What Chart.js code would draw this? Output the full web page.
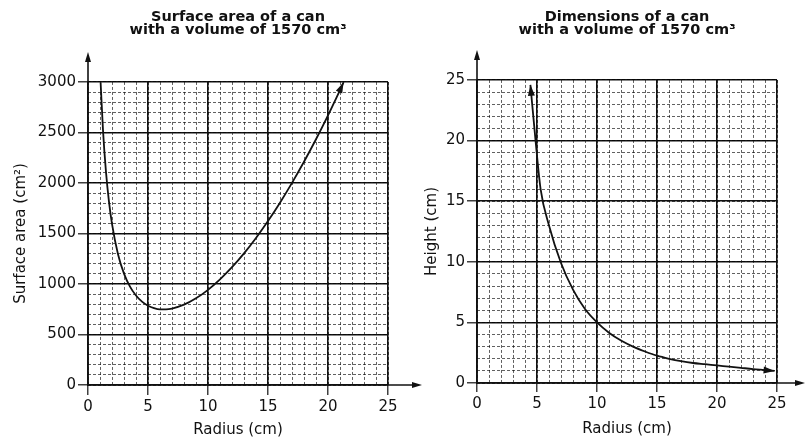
<!DOCTYPE html>
<html><head><meta charset="utf-8">
<script src="https://cdn.jsdelivr.net/npm/chart.js@4/dist/chart.umd.min.js"></script>
<style>
html,body{margin:0;padding:0;background:#fff;width:807px;height:444px;overflow:hidden;}
#c1{position:absolute;left:0;top:0;}
#c2{position:absolute;left:403px;top:0;}
</style></head><body>
<canvas id="c1" width="430" height="444"></canvas>
<canvas id="c2" width="404" height="444"></canvas>
<script>
// ---- data ----
const radiusA = [1.05, 1.25, 1.5, 1.75, 2, 2.5, 3, 3.5, 4, 4.5, 5, 5.5, 6, 6.5, 7, 8, 9, 10, 11, 12, 13, 14, 15, 16, 17, 18, 19, 20, 21, 21.3];
const surfaceArea = [2997, 2522, 2107, 1813, 1595, 1295, 1103, 974, 886, 825, 785, 761, 749, 749, 757, 795, 858, 942, 1046, 1166, 1303, 1456, 1623, 1805, 2001, 2210, 2433, 2670, 2920, 2998];
const radiusH = [4.45, 4.88, 5.3, 6, 7, 8, 9, 10, 11, 12, 13, 14, 15, 16, 17, 18, 19, 20, 21, 22, 23, 24, 24.8];
const canHeight = [24.6, 20.0, 16.0, 13.0, 9.9, 7.7, 6.1, 5.0, 4.15, 3.5, 3.0, 2.6, 2.25, 2.0, 1.8, 1.65, 1.55, 1.45, 1.35, 1.25, 1.15, 1.07, 1.0];
const radiusTicks = [0, 5, 10, 15, 20, 25];
const areaTicks = [0, 500, 1000, 1500, 2000, 2500, 3000];
const heightTicks = [0, 5, 10, 15, 20, 25];
const title1 = ['Surface area of a can', 'with a volume of 1570 cm³'];
const title2 = ['Dimensions of a can', 'with a volume of 1570 cm³'];

Chart.defaults.color = '#111';
Chart.defaults.font.family = 'DejaVu Sans';

function arrowHead(ctx, tx, ty, ang, len, hw) {
  ctx.beginPath();
  ctx.moveTo(tx, ty);
  ctx.lineTo(tx - len * Math.cos(ang) + hw * Math.sin(ang), ty - len * Math.sin(ang) - hw * Math.cos(ang));
  ctx.lineTo(tx - len * Math.cos(ang) - hw * Math.sin(ang), ty - len * Math.sin(ang) + hw * Math.cos(ang));
  ctx.closePath();
  ctx.fill();
}

const arrowsPlugin = {
  id: 'arrows',
  afterDraw(chart, args, opts) {
    const {ctx, chartArea: a} = chart;
    const x0 = chart.scales.x.getPixelForValue(0);
    const y0 = chart.scales.y.getPixelForValue(0);
    ctx.save();
    ctx.strokeStyle = '#111'; ctx.fillStyle = '#111'; ctx.lineWidth = 1.6;
    ctx.beginPath(); ctx.moveTo(x0, y0 + 1); ctx.lineTo(x0, a.top - opts.up + 4); ctx.stroke();
    arrowHead(ctx, x0, a.top - opts.up, -Math.PI / 2, 10, 3);
    ctx.beginPath(); ctx.moveTo(x0 - 1, y0); ctx.lineTo(a.right + opts.right - 4, y0); ctx.stroke();
    arrowHead(ctx, a.right + opts.right, y0, 0, 10, 3);
    const pts = chart.getDatasetMeta(0).data;
    const n = pts.length;
    if (opts.curveEnd) {
      const p = pts[n - 1], q = pts[n - 2];
      arrowHead(ctx, p.x, p.y, Math.atan2(p.y - q.y, p.x - q.x), 11, 3.5);
    }
    if (opts.curveStart) {
      const p = pts[0], q = pts[1];
      arrowHead(ctx, p.x, p.y, Math.atan2(p.y - q.y, p.x - q.x), 11, 3.5);
    }
    ctx.restore();
  }
};

function makeChart(id, cfg) {
  const tickFont = {family: 'DejaVu Sans', size: 15};
  return new Chart(document.getElementById(id), {
    type: 'line',
    data: {
      datasets: [{
        data: cfg.xs.map((x, i) => ({x: x, y: cfg.ys[i]})),
        borderColor: '#111', borderWidth: 1.8, pointRadius: 0,
        cubicInterpolationMode: 'monotone', fill: false
      }]
    },
    options: {
      responsive: false, devicePixelRatio: 1, animation: false,
      layout: {padding: {left: 0, top: 0, right: cfg.padRight, bottom: 0}},
      plugins: {
        legend: {display: false}, tooltip: {enabled: false},
        title: {display: true, fullSize: false, text: cfg.title, color: '#111',
          font: {family: 'DejaVu Sans', size: 14.5, weight: 'bold', lineHeight: 0.95},
          padding: {top: 10, bottom: cfg.titleBottom}},
        arrows: cfg.arrows
      },
      scales: {
        x: {
          type: 'linear', position: 'bottom', min: 0, max: 25,
          afterBuildTicks: s => { s.ticks = radiusTicks.map(v => ({value: v})); },
          afterFit: s => { s.height = cfg.xHeight; },
          grid: {color: '#111', lineWidth: 1.6, tickLength: cfg.xTickLen, tickColor: '#111', tickWidth: 1.2},
          border: {display: false},
          ticks: {padding: 3, font: tickFont, color: '#111', autoSkip: false, maxRotation: 0,
            callback: v => String(v)},
          title: {display: true, text: 'Radius (cm)', font: tickFont, color: '#111', padding: {top: 0, bottom: cfg.xTitlePad}}
        },
        x2: {
          type: 'linear', position: 'bottom', min: 0, max: 25,
          ticks: {display: false, stepSize: 1},
          afterFit: s => { s.height = 0; },
          grid: {color: 'rgba(0,0,0,0.62)', lineWidth: 1, drawTicks: false, z: -1},
          border: {display: false, dash: [3, 2]}
        },
        y: {
          type: 'linear', position: 'left', min: 0, max: cfg.yMax,
          afterBuildTicks: s => { s.ticks = cfg.yTicks.map(v => ({value: v})); },
          afterFit: s => { s.width = cfg.yWidth; },
          grid: {color: '#111', lineWidth: 1.6, tickLength: 10, tickColor: '#111', tickWidth: 1.2},
          border: {display: false},
          ticks: {padding: 2, font: tickFont, color: '#111', autoSkip: false,
            callback: v => String(v)},
          title: {display: true, text: cfg.yTitle, font: tickFont, color: '#111', padding: {top: cfg.yTitlePad, bottom: 0}}
        },
        y2: {
          type: 'linear', position: 'left', min: 0, max: cfg.yMax,
          ticks: {display: false, stepSize: cfg.yMinor},
          afterFit: s => { s.width = 0; },
          grid: {color: 'rgba(0,0,0,0.62)', lineWidth: 1, drawTicks: false, z: -1},
          border: {display: false, dash: [3, 2]}
        }
      }
    },
    plugins: [arrowsPlugin]
  });
}

makeChart('c1', {
  xs: radiusA, ys: surfaceArea, title: title1, yTitle: 'Surface area (cm²)',
  yMax: 3000, yTicks: areaTicks, yMinor: 100,
  padRight: 42, titleBottom: 44.4, xHeight: 59, xTickLen: 10, xTitlePad: 5,
  yWidth: 88, yTitlePad: 12,
  arrows: {up: 30, right: 34, curveEnd: true, curveStart: false}
});
makeChart('c2', {
  xs: radiusH, ys: canHeight, title: title2, yTitle: 'Height (cm)',
  yMax: 25, yTicks: heightTicks, yMinor: 1,
  padRight: 30, titleBottom: 42.4, xHeight: 61, xTickLen: 9, xTitlePad: 6,
  yWidth: 74, yTitlePad: 20,
  arrows: {up: 30, right: 28, curveEnd: true, curveStart: true}
});
</script>
</body></html>
